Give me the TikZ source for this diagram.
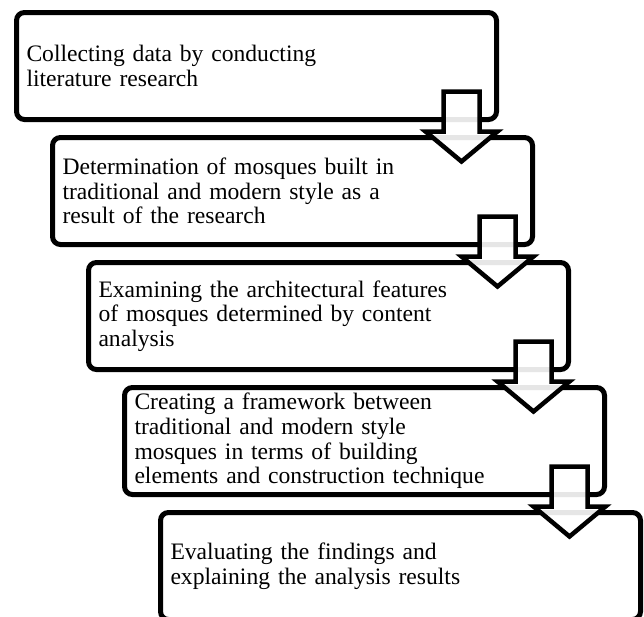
\documentclass[tikz,border=0pt]{standalone}
\usepackage{fontspec}
\setmainfont{Liberation Serif}

\begin{document}
\begin{tikzpicture}[
    x=1pt, y=-1pt,
    font=\fontsize{23.6}{24.7}\selectfont,
    stepbox/.style={draw=black, line width=5pt, rectangle, rounded corners=8pt,
        fill=white, anchor=north west, outer sep=0pt, inner xsep=10pt,
        text width=460pt, align=left, minimum height=107pt},
    downarrow/.style={draw=black, line width=4.5pt, fill=white, fill opacity=0.9,
        draw opacity=1}
]

% Frame
\clip (0,0) rectangle (644,616);

% Boxes
\node[stepbox] (b1) at (16.5,12.5)  {Collecting data by conducting\\literature research};
\node[stepbox] (b2) at (52.5,137.5) {Determination of mosques built in\\traditional and modern style as a\\result of the research};
\node[stepbox] (b3) at (88.5,262.5) {Examining the architectural features\\of mosques determined by content\\analysis};
\node[stepbox] (b4) at (124.5,387.5) {Creating a framework between\\traditional and modern style\\mosques in terms of building\\elements and construction technique};
\node[stepbox] (b5) at (160.5,512.5) {Evaluating the findings and\\explaining the analysis results};

% Arrows
\foreach \i in {1,...,4}{
  \begin{scope}[shift={(b\i.south east)}]
    \draw[downarrow] (-53,-28) -- (-17,-28) -- (-17,12) -- (1,12) -- (-35,42)
        -- (-71,12) -- (-53,12) -- cycle;
  \end{scope}
}

\end{tikzpicture}
\end{document}
